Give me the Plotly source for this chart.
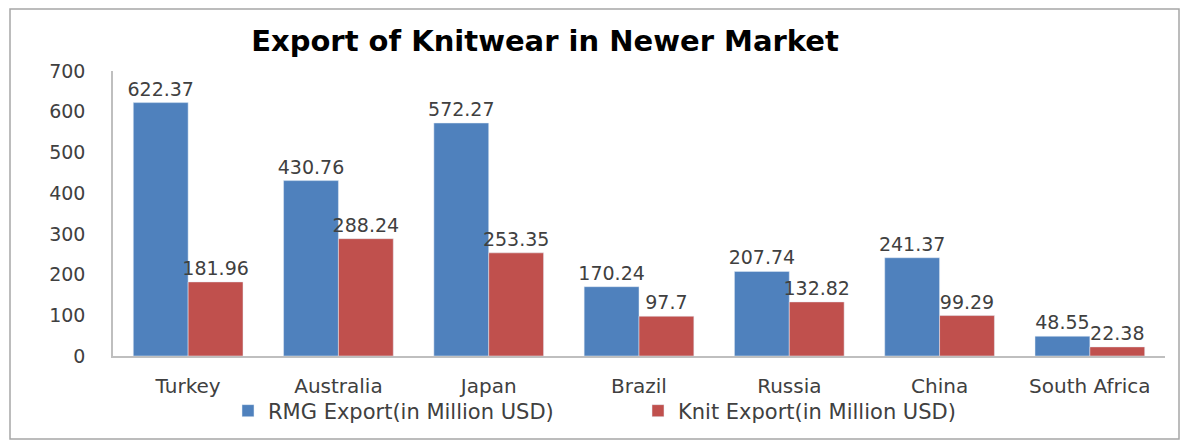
import plotly.graph_objects as go

categories = ["Turkey", "Australia", "Japan", "Brazil", "Russia", "China", "South Africa"]
rmg_export = [622.37, 430.76, 572.27, 170.24, 207.74, 241.37, 48.55]
knit_export = [181.96, 288.24, 253.35, 97.7, 132.82, 99.29, 22.38]
y_ticks = [0, 100, 200, 300, 400, 500, 600, 700]

# page body has an 8px margin; design in screen pixels and subtract it
OFF = 8
W, H = 1175, 432
L, T = 113 - OFF, 71 - OFF
B = H - (356 - OFF)
R = W - (1165 - OFF)
pw, ph = W - L - R, H - T - B

def px(sx):
    return (sx - OFF - L) / pw

def py(sy):
    return (H - B - (sy - OFF)) / ph

label_font = dict(family="DejaVu Sans", size=19, color="#404040")
legend_font = dict(family="DejaVu Sans", size=21, color="#404040")

fig = go.Figure()
fig.add_trace(go.Bar(
    x=categories, y=rmg_export, name="RMG Export(in Million USD)",
    marker=dict(color="#4F81BD"),
    text=[str(v) for v in rmg_export], textposition="outside",
    textfont=label_font, cliponaxis=False, constraintext="none",
    legend="legend",
))
fig.add_trace(go.Bar(
    x=categories, y=knit_export, name="Knit Export(in Million USD)",
    marker=dict(color="#C0504D"),
    text=[str(v) for v in knit_export], textposition="outside",
    textfont=label_font, cliponaxis=False, constraintext="none",
    legend="legend2",
))

fig.update_layout(
    width=W, height=H,
    margin=dict(l=L, r=R, t=T, b=B, autoexpand=False),
    paper_bgcolor="white", plot_bgcolor="white",
    barmode="group", bargap=0.27, bargroupgap=0,
    title=dict(text="<b>Export of Knitwear in Newer Market</b>",
               xref="container", x=(545 - OFF) / W, xanchor="center",
               yref="container", y=1 - (41 - OFF) / H, yanchor="middle",
               font=dict(family="DejaVu Sans", size=29, color="#000000")),
    showlegend=True,
    legend=dict(orientation="h", x=px(228), xanchor="left", y=py(411), yanchor="middle",
                font=legend_font, bgcolor="rgba(0,0,0,0)", itemwidth=30),
    legend2=dict(orientation="h", x=px(638), xanchor="left", y=py(411), yanchor="middle",
                 font=legend_font, bgcolor="rgba(0,0,0,0)", itemwidth=30),
    xaxis=dict(showline=True, linecolor="#BFBFBF", linewidth=1.5, ticks="",
               tickfont=dict(family="DejaVu Sans", size=20, color="#404040"),
               ticklabelstandoff=11, showgrid=False),
    yaxis=dict(range=[0, 700], tickvals=y_ticks, showline=True, linecolor="#BFBFBF",
               linewidth=1.5, ticks="", showgrid=False, zeroline=False,
               tickfont=dict(family="DejaVu Sans", size=19, color="#404040"),
               ticklabelstandoff=22),
    font=dict(family="DejaVu Sans", color="#404040"),
)

fig.add_shape(type="rect", xref="paper", yref="paper",
              x0=px(10), x1=px(1179), y0=py(439), y1=py(9),
              line=dict(color="#A6A6A6", width=1.5), fillcolor="rgba(0,0,0,0)", layer="below")

fig.write_html("out.html")
